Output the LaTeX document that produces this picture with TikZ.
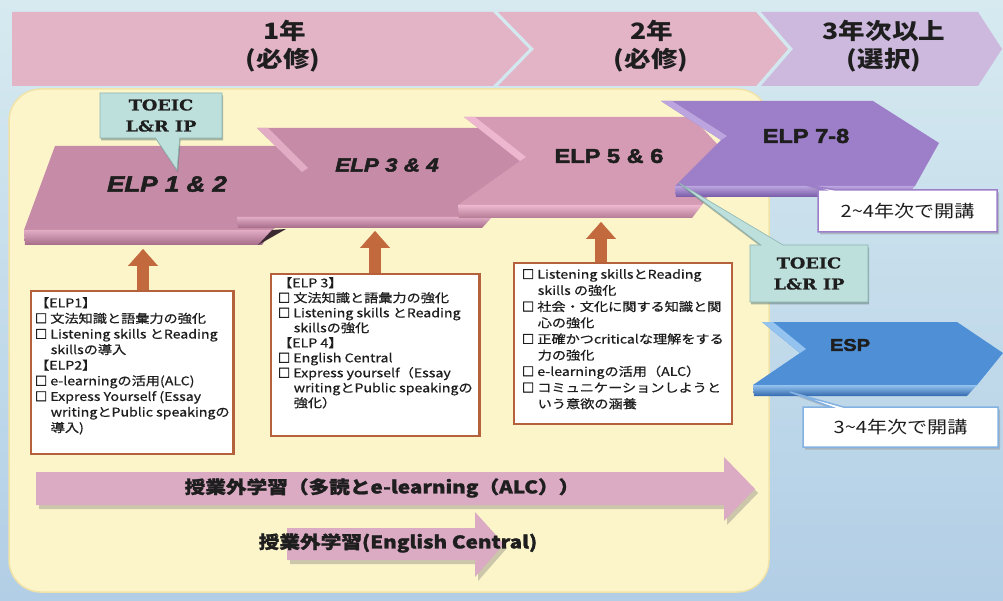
\documentclass[tikz,border=0pt]{standalone}
\usepackage{fontspec}
\setmainfont[FakeStretch=1.18]{Liberation Sans}
\newfontfamily\jp[FakeStretch=1.18]{Noto Sans CJK JP}
\newfontfamily\jpm[FakeStretch=1.18,FakeBold=0.7]{Noto Sans CJK JP}
\newfontfamily\jph[FakeStretch=1.18,FakeBold=1.2]{Noto Sans CJK JP}
\newfontfamily\sqfont[FakeBold=4]{Noto Sans CJK JP}
\newfontfamily\slab[FakeStretch=1.18,FakeBold=0.6]{DejaVu Serif}
\newfontfamily\elpf[FakeStretch=1.18,FakeBold=2.5]{Liberation Sans}
\usetikzlibrary{arrows.meta,shadows,shapes.callouts}
\newcommand\indnt{\hspace*{1.3em}}
\newcommand\sq{{\sqfont □}}
\newcommand\bline[1]{\hbox{#1}}

\definecolor{bgtop}{HTML}{D6EAF0}
\definecolor{bgbot}{HTML}{B2CEE6}
\definecolor{bandpink}{HTML}{E2B4C6}
\definecolor{bandpurp}{HTML}{CDB9DD}
\definecolor{panelfill}{HTML}{FCF5CA}
\definecolor{paneledge}{HTML}{F1E2A8}
\definecolor{mauve}{HTML}{C68BA7}
\definecolor{mauvedk}{HTML}{A56C88}
\definecolor{mauvelt}{HTML}{E2ACC5}
\definecolor{rose}{HTML}{D59BB4}
\definecolor{rosedk}{HTML}{B47C95}
\definecolor{roselt}{HTML}{EDB8CF}
\definecolor{purp}{HTML}{9C7FC8}
\definecolor{purpdk}{HTML}{7659A6}
\definecolor{purplt}{HTML}{BCA5DF}
\definecolor{espb}{HTML}{4E8FD6}
\definecolor{espdk}{HTML}{336AAE}
\definecolor{esplt}{HTML}{93C3EE}
\definecolor{callfill}{HTML}{BEE0DC}
\definecolor{calledge}{HTML}{8DB5B0}
\definecolor{boxedge}{HTML}{B5613B}
\definecolor{uparr}{HTML}{C26A3E}
\definecolor{barr}{HTML}{DAABC3}
\definecolor{ink}{HTML}{1E1E1E}

\tikzset{
  bandtxt/.style={font=\jp\bfseries\fontsize{22.5}{26}\selectfont, text=ink, inner sep=0pt},
  elpit/.style={font=\elpf\bfseries\itshape\fontsize{#1}{#1}\selectfont, text=ink, inner sep=0pt},
  elpup/.style={font=\elpf\bfseries\fontsize{#1}{#1}\selectfont, text=ink, inner sep=0pt},
  infobox/.style={draw=boxedge, line width=2.3pt, fill=white, inner xsep=5pt, inner ysep=3pt,
    anchor=north west, text=ink},
  toeic/.style={rectangle callout, fill=callfill, draw=calledge, line width=0.6pt,
    font=\slab\bfseries\fontsize{15}{21}\selectfont, text=ink, align=center, inner sep=0pt,
    drop shadow={shadow xshift=1pt, shadow yshift=-2.5pt, fill=calledge!70!black, opacity=0.55}},
  periodbox/.style={rectangle callout, fill=white, line width=1.5pt,
    font=\jp\fontsize{17}{20}\selectfont, text=ink, inner sep=0pt,
    drop shadow={shadow xshift=2pt, shadow yshift=-2.5pt, fill=black!45, opacity=0.45}},
  uparrow/.style={draw=uparr, line width=12pt, -{Triangle[width=30pt,length=17pt,line width=0.1pt]}},
  bigtxt/.style={font=\jph\bfseries\fontsize{17.5}{20}\selectfont, text=ink, inner sep=0pt},
  barrow/.style={fill=barr},
  bshadow/.style={fill=black!55, opacity=0.35},
}

\begin{document}
\begin{tikzpicture}[x=1pt,y=-1pt]
\useasboundingbox (0,0) rectangle (1003,601);
\shade[top color=bgtop, bottom color=bgbot] (0,0) rectangle (1003,601);

% ---- top band ----
\fill[bandpink] (12,12) -- (493,12) -- (529,49) -- (493,86) -- (12,86) -- cycle;
\fill[bandpink] (498,12) -- (756,12) -- (788,49) -- (756,86) -- (498,86) -- (534,49) -- cycle;
\fill[bandpurp] (761,12) -- (978,12) -- (1002,49) -- (978,86) -- (761,86) -- (793,49) -- cycle;
\node[bandtxt] (y1) at (285,31) {1年};
\node[bandtxt] (y1b) at (283,60) {(必修)};
\node[bandtxt] (y2) at (652,31) {2年};
\node[bandtxt] (y2b) at (651,60) {(必修)};
\node[bandtxt] (y3) at (884,31) {3年次以上};
\node[bandtxt] (y3b) at (884,60) {(選択)};

% ---- yellow panel ----
\filldraw[fill=panelfill, draw=paneledge, line width=1.5pt, rounded corners=32pt] (9,89) rectangle (769,592);

% ---- ELP 1 & 2 ----
\fill[mauve] (55,146) -- (310,146) -- (340,188) -- (272,230) -- (24,230) -- cycle;
\shade[top color=mauvelt, bottom color=mauvedk] (24,230) -- (272,230) -- (262,245) -- (25,245) -- cycle;
\fill[black!70!mauve] (258,245) -- (272,230) -- (286,229) -- cycle;
\node[elpit=22] (e12) at (167,184) {ELP 1 \& 2};

% ---- ELP 3 & 4 ----
\fill[mauve] (257,128) -- (492,128) -- (532,172) -- (492,217) -- (237,217) -- (302,172) -- cycle;
\shade[top color=mauvelt, bottom color=mauvedk] (237,217) -- (492,217) -- (482,228) -- (238,228) -- cycle;
\fill[mauvelt] (257,128) -- (268,128) -- (308,168) -- (302,172) -- cycle;
\node[elpit=19] (e34) at (387,165) {ELP 3 \& 4};

% ---- ELP 5 & 6 ----
\fill[rose] (464,117) -- (692,117) -- (732,160) -- (702,205) -- (458,205) -- (520,161) -- cycle;
\shade[top color=roselt, bottom color=rosedk] (458,205) -- (702,205) -- (692,218) -- (459,218) -- cycle;
\fill[roselt] (464,117) -- (475,117) -- (526,157) -- (520,161) -- cycle;
\node[elpup=20] (e56) at (609,156) {ELP 5 \& 6};

% ---- ELP 7-8 ----
\fill[purp] (661,101) -- (873,101) -- (939,143) -- (915,186) -- (675,186) -- (721,140) -- cycle;
\shade[top color=purplt, bottom color=purpdk] (675,186) -- (915,186) -- (905,197) -- (676,197) -- cycle;
\fill[purplt] (661,101) -- (672,101) -- (727,136) -- (721,140) -- cycle;
\node[elpup=20] (e78) at (806,136) {ELP 7-8};

% ---- ESP ----
\fill[espb] (762,322) -- (957,322) -- (1003,353) -- (977,385) -- (753,385) -- (800,353) -- cycle;
\shade[top color=esplt, bottom color=espdk] (753,385) -- (977,385) -- (967,396) -- (754,396) -- cycle;
\fill[esplt] (762,322) -- (773,322) -- (806,349) -- (800,353) -- cycle;
\node[elpup=17] (esp) at (850,345) {ESP};

% ---- content boxes ----
\node[infobox, inner xsep=4pt, inner ysep=6pt] (b1) at (30,290) {%
\parbox[c][151pt][t]{215pt}{\jpm\fontsize{12}{15.6}\selectfont
\bline{【ELP1】}
\bline{\sq\ 文法知識と語彙力の強化}
\bline{\sq\ Listening skills とReading}
\bline{\indnt skillsの導入}
\bline{【ELP2】}
\bline{\sq\ e-learningの活用(ALC)}
\bline{\sq\ Express Yourself (Essay}
\bline{\indnt writingとPublic speakingの}
\bline{\indnt 導入)}}};

\node[infobox, inner xsep=7pt, inner ysep=3pt] (b2) at (270,273) {%
\parbox[c][156pt][t]{209pt}{\jpm\fontsize{12}{15}\selectfont
\bline{【ELP 3】}
\bline{\sq\ 文法知識と語彙力の強化}
\bline{\sq\ Listening skills とReading}
\bline{\indnt skillsの強化}
\bline{【ELP 4】}
\bline{\sq\ English Central}
\bline{\sq\ Express yourself（Essay}
\bline{\indnt writingとPublic speakingの}
\bline{\indnt 強化）}}};

\node[infobox, inner xsep=8pt, inner ysep=6pt] (b3) at (513,262) {%
\parbox[c][149pt][t]{209pt}{\jpm\fontsize{12}{16.2}\selectfont
\bline{\sq\ Listening skillsとReading}
\bline{\indnt skills の強化}
\bline{\sq\ 社会・文化に関する知識と関}
\bline{\indnt 心の強化}
\bline{\sq\ 正確かつcriticalな理解をする}
\bline{\indnt 力の強化}
\bline{\sq\ e-learningの活用（ALC）}
\bline{\sq\ コミュニケーションしようと}
\bline{\indnt いう意欲の涵養}}};

% ---- up arrows ----
\coordinate (a1t) at (143,249);
\coordinate (a2t) at (375,231);
\coordinate (a3t) at (601,222);
\draw[uparrow] (b1.north -| a1t) -- (a1t);
\draw[uparrow] (b2.north -| a2t) -- (a2t);
\draw[uparrow] (b3.north -| a3t) -- (a3t);

% ---- callouts ----
\node[toeic, minimum width=122pt, minimum height=45pt, callout absolute pointer={(177,170)},
  callout pointer width=24pt] (t1) at (161,115.5) {TOEIC\\L\&R IP};
\node[toeic, minimum width=118pt, minimum height=57pt, callout absolute pointer={(679,183)},
  callout pointer width=22pt] (t2) at (809,273.5) {TOEIC\\L\&R IP};

\node[periodbox, draw=purp, minimum width=179pt, minimum height=42pt, callout absolute pointer={(806,185)},
  callout pointer width=12pt] (p1) at (907.5,211) {2\textasciitilde 4年次で開講};
\node[periodbox, draw=espb!70, minimum width=195pt, minimum height=40pt, callout absolute pointer={(790,392)},
  callout pointer width=12pt] (p2) at (900.5,427) {3\textasciitilde 4年次で開講};

% ---- bottom arrows ----
\fill[bshadow] (39,476) -- (727,476) -- (727,462) -- (758,493) -- (727,525) -- (727,509) -- (39,509) -- cycle;
\fill[barrow] (36,472) -- (724,472) -- (724,457) -- (755,489) -- (724,521) -- (724,505) -- (36,505) -- cycle;
\node[bigtxt] (x1) at (382,488) {授業外学習（多読とe-learning（ALC））};

\fill[bshadow] (290,532) -- (478,532) -- (478,516) -- (507,548) -- (478,581) -- (478,564) -- (290,564) -- cycle;
\fill[barrow] (287,528) -- (475,528) -- (475,512) -- (504,544) -- (475,577) -- (475,560) -- (287,560) -- cycle;
\node[bigtxt] (x2) at (398,543) {授業外学習(English Central)};
\end{tikzpicture}
\end{document}
